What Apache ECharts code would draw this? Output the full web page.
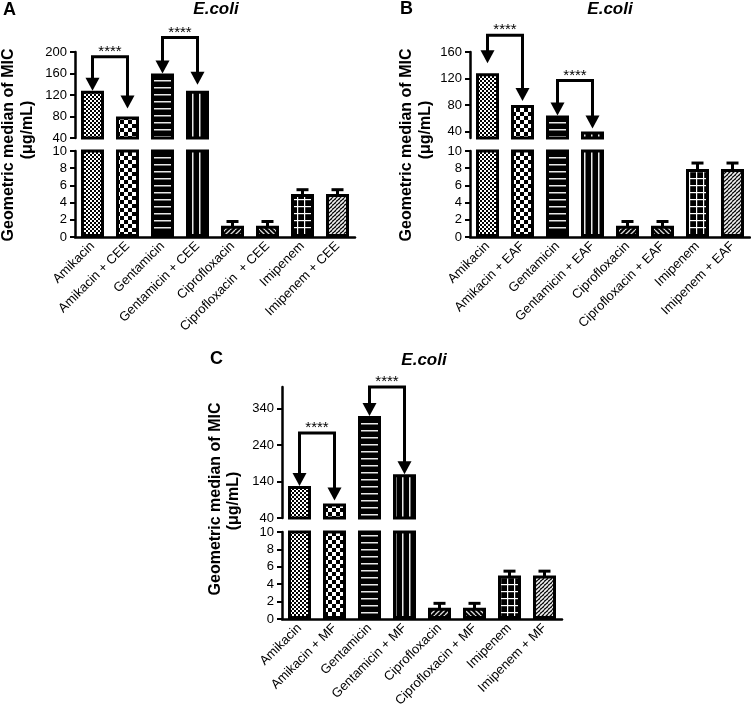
<!DOCTYPE html>
<html><head><meta charset="utf-8">
<script src="https://cdn.jsdelivr.net/npm/echarts@6/dist/echarts.min.js"></script>
<style>html,body{margin:0;padding:0;background:#fff}#c{width:751px;height:710px}</style>
</head><body><div id="c"></div>
<script>
// ---------------- DATA ----------------
const categoriesA = ['Amikacin','Amikacin + CEE','Gentamicin','Gentamicin + CEE','Ciprofloxacin','Ciprofloxacin  + CEE','Imipenem','Imipenem + CEE'];
const categoriesB = ['Amikacin','Amikacin + EAF','Gentamicin','Gentamicin + EAF','Ciprofloxacin','Ciprofloxacin + EAF','Imipenem','Imipenem + EAF'];
const categoriesC = ['Amikacin','Amikacin + MF','Gentamicin','Gentamicin + MF','Ciprofloxacin','Ciprofloxacin + MF','Imipenem','Imipenem + MF'];

const valuesA = [128, 80, 160, 128, 1.3, 1.3, 5.0, 5.0];
const valuesB = [128, 80, 64, 40, 1.3, 1.3, 7.9, 7.9];
const valuesC = [128, 80, 320, 160, 1.3, 1.3, 5.0, 5.0];

const errorHighA = [null, null, null, null, 1.8, 1.8, 5.5, 5.5];
const errorHighB = [null, null, null, null, 1.8, 1.8, 8.6, 8.6];
const errorHighC = [null, null, null, null, 1.8, 1.8, 5.5, 5.5];

const upperTicksA = [40, 80, 120, 160, 200];
const upperTicksB = [40, 80, 120, 160];
const upperTicksC = [40, 140, 240, 340];
const lowerTicks = [0, 2, 4, 6, 8, 10];

const sigPairs = [[0, 1], [2, 3]];
const sigLabel = '****';

const panelLetters = ['A', 'B', 'C'];
const panelTitle = 'E.coli';
const yTitle1 = 'Geometric median of MIC';
const yTitle2 = '(\u03bcg/mL)';

// ---------------- STYLE / LAYOUT ----------------
const FONT = "'Liberation Sans', Arial, sans-serif";

function mkCanvas(w, h, draw) {
  const c = document.createElement('canvas');
  c.width = w; c.height = h;
  const ctx = c.getContext('2d');
  draw(ctx, w, h);
  return { image: c, repeat: 'repeat' };
}
const patterns = [
  mkCanvas(4, 4, (x) => { x.fillStyle = '#fff'; x.fillRect(0,0,4,4); x.fillStyle = '#000'; x.fillRect(0,0,2,2); x.fillRect(2,2,2,2); }),
  mkCanvas(8, 8, (x) => { x.fillStyle = '#fff'; x.fillRect(0,0,8,8); x.fillStyle = '#000'; x.fillRect(0,0,4,4); x.fillRect(4,4,4,4); }),
  mkCanvas(7, 7, (x) => { x.fillStyle = '#000'; x.fillRect(0,0,7,7); x.fillStyle = '#e8e8e8'; x.fillRect(0,3,7,1.5); }),
  mkCanvas(7, 7, (x) => { x.fillStyle = '#000'; x.fillRect(0,0,7,7); x.fillStyle = '#e8e8e8'; x.fillRect(3,0,1.5,7); }),
  mkCanvas(5, 5, (x) => { x.fillStyle = '#000'; x.fillRect(0,0,5,5); x.strokeStyle = '#ddd'; x.lineWidth = 1.3;
    for (let k = -1; k <= 1; k++) { x.beginPath(); x.moveTo(k*5, 5); x.lineTo(k*5 + 5, 0); x.stroke(); } }),
  mkCanvas(5, 5, (x) => { x.fillStyle = '#000'; x.fillRect(0,0,5,5); x.strokeStyle = '#ddd'; x.lineWidth = 1.3;
    for (let k = -1; k <= 1; k++) { x.beginPath(); x.moveTo(k*5, 0); x.lineTo(k*5 + 5, 5); x.stroke(); } }),
  mkCanvas(7, 7, (x) => { x.fillStyle = '#000'; x.fillRect(0,0,7,7); x.fillStyle = '#fff'; x.fillRect(3,0,1.2,7); x.fillRect(0,3,7,1.2); }),
  mkCanvas(4, 4, (x) => { x.fillStyle = '#000'; x.fillRect(0,0,4,4); x.strokeStyle = '#f0f0f0'; x.lineWidth = 1.7;
    for (let k = -1; k <= 1; k++) { x.beginPath(); x.moveTo(k*4, 4); x.lineTo(k*4 + 4, 0); x.stroke(); } })
];

const panels = [
  { cats: categoriesA, vals: valuesA, err: errorHighA, ticks: upperTicksA, uMin: 40, uMax: 200,
    left: 75, width: 280, uTop: 52, uH: 86, lTop: 151, lH: 86,
    brackets: [{ rise: 34, gapL: 0, gapR: 8 }, { rise: 36, gapL: 0, gapR: 6 }],
    letter: [3, 10], title: [216, 9], yt1: [9, 145], yt2: [28, 130] },
  { cats: categoriesB, vals: valuesB, err: errorHighB, ticks: upperTicksB, uMin: 30, uMax: 160,
    left: 470, width: 280, uTop: 52, uH: 86, lTop: 151, lH: 86,
    brackets: [{ rise: 38, gapL: 10, gapR: 4 }, { rise: 35, gapL: 0, gapR: 3 }],
    letter: [400, 9], title: [610, 9], yt1: [407, 145], yt2: [426, 130] },
  { cats: categoriesC, vals: valuesC, err: errorHighC, ticks: upperTicksC, uMin: 40, uMax: 400,
    left: 282, width: 280, uTop: 387, uH: 131, lTop: 532, lH: 87,
    brackets: [{ rise: 53, gapL: 0, gapR: 3 }, { rise: 29, gapL: 0, gapR: 0 }],
    letter: [210, 359], title: [424, 360], yt1: [216, 499], yt2: [234, 501] }
];

const grid = [], xAxis = [], yAxis = [], series = [], graphic = [];
const axisLineStyle = { color: '#000', width: 2.5 };
const tickStyle = { color: '#000', width: 2 };
const labelStyle = { color: '#000', fontSize: 13, fontFamily: FONT };

panels.forEach((p, pi) => {
  const gU = grid.length;
  grid.push({ left: p.left, top: p.uTop, width: p.width, height: p.uH });
  grid.push({ left: p.left, top: p.lTop, width: p.width, height: p.lH });
  const gL = gU + 1;
  xAxis.push({ gridIndex: gU, type: 'category', data: p.cats, show: false });
  xAxis.push({ gridIndex: gL, type: 'category', data: p.cats,
    axisLine: { lineStyle: axisLineStyle },
    axisTick: { alignWithLabel: true, length: 5, lineStyle: tickStyle },
    axisLabel: Object.assign({ rotate: 45, interval: 0, margin: 7 }, labelStyle) });
  yAxis.push({ gridIndex: gU, type: 'value', min: p.uMin, max: p.uMax,
    axisLine: { show: true, lineStyle: axisLineStyle },
    axisTick: { show: true, length: 5, lineStyle: tickStyle, customValues: p.ticks },
    axisLabel: Object.assign({ margin: 8, customValues: p.ticks }, labelStyle),
    splitLine: { show: false } });
  yAxis.push({ gridIndex: gL, type: 'value', min: 0, max: 10, interval: 2,
    axisLine: { show: true, lineStyle: axisLineStyle },
    axisTick: { show: true, length: 5, lineStyle: tickStyle, customValues: lowerTicks },
    axisLabel: Object.assign({ margin: 8, customValues: lowerTicks }, labelStyle),
    splitLine: { show: false } });

  const barData = p.vals.map((v, i) => ({ value: v, itemStyle: { color: patterns[i] } }));
  [gU, gL].forEach((g) => {
    series.push({ type: 'bar', xAxisIndex: g, yAxisIndex: g, data: barData, barWidth: 23, clip: true,
      itemStyle: { borderColor: '#000', borderWidth: 3 }, silent: true, animation: false });
  });

  // error bars (lower grid)
  const errData = [];
  p.err.forEach((h, i) => { if (h != null) errData.push([i, p.vals[i], h]); });
  series.push({ type: 'custom', xAxisIndex: gL, yAxisIndex: gL, data: errData, animation: false, silent: true,
    encode: { x: 0, y: 1 },
    renderItem: (params, api) => {
      const i = api.value(0), m = api.value(1), h = api.value(2);
      const top = api.coord([i, h]);
      const low = api.coord([i, m - (h - m)]);
      const x = top[0];
      return { type: 'group', children: [
        { type: 'line', shape: { x1: x, y1: low[1], x2: x, y2: top[1] }, style: { stroke: '#000', lineWidth: 3 } },
        { type: 'line', shape: { x1: x - 6, y1: top[1], x2: x + 6, y2: top[1] }, style: { stroke: '#000', lineWidth: 3 } }
      ] };
    } });

  // significance brackets (upper grid)
  const brData = sigPairs.map((pr) => [pr[0], p.vals[pr[0]]]);
  series.push({ type: 'custom', xAxisIndex: gU, yAxisIndex: gU, data: brData, clip: false, animation: false, silent: true,
    encode: { x: 0, y: 1 }, z: 10,
    renderItem: (params, api) => {
      const pr = sigPairs[params.dataIndex];
      const s = p.brackets[params.dataIndex];
      const pL = api.coord([pr[0], p.vals[pr[0]]]);
      const pR = api.coord([pr[1], p.vals[pr[1]]]);
      const yTop = Math.min(pL[1], pR[1]) - s.rise;
      const tL = pL[1] - s.gapL, tR = pR[1] - s.gapR;
      const hw = 7, hh = 13;
      return { type: 'group', children: [
        { type: 'polyline', shape: { points: [[pL[0], tL - hh + 1], [pL[0], yTop], [pR[0], yTop], [pR[0], tR - hh + 1]] },
          style: { stroke: '#000', lineWidth: 3, fill: 'none', lineJoin: 'miter' } },
        { type: 'polygon', shape: { points: [[pL[0] - hw, tL - hh], [pL[0] + hw, tL - hh], [pL[0], tL]] }, style: { fill: '#000' } },
        { type: 'polygon', shape: { points: [[pR[0] - hw, tR - hh], [pR[0] + hw, tR - hh], [pR[0], tR]] }, style: { fill: '#000' } },
        { type: 'text', style: { text: sigLabel, x: (pL[0] + pR[0]) / 2, y: yTop - 5, textAlign: 'center', textVerticalAlign: 'middle',
          font: '15px ' + FONT, fill: '#000' } }
      ] };
    } });

  graphic.push({ type: 'text', left: p.letter[0], top: p.letter[1] - 9,
    style: { text: panelLetters[pi], font: 'bold 18px ' + FONT, fill: '#000' } });
  graphic.push({ type: 'text', x: p.title[0], y: p.title[1],
    style: { text: panelTitle, font: 'italic bold 17px ' + FONT, fill: '#000', textAlign: 'center', textVerticalAlign: 'middle' } });
  graphic.push({ type: 'text', x: p.yt1[0], y: p.yt1[1], rotation: Math.PI / 2,
    style: { text: yTitle1, font: 'bold 16px ' + FONT, fill: '#000', textAlign: 'center', textVerticalAlign: 'middle' } });
  graphic.push({ type: 'text', x: p.yt2[0], y: p.yt2[1], rotation: Math.PI / 2,
    style: { text: yTitle2, font: 'bold 16px ' + FONT, fill: '#000', textAlign: 'center', textVerticalAlign: 'middle' } });
});

const chart = echarts.init(document.getElementById('c'), null, { renderer: 'canvas' });
chart.setOption({ animation: false, backgroundColor: '#fff', grid, xAxis, yAxis, series, graphic });
</script>
</body></html>
